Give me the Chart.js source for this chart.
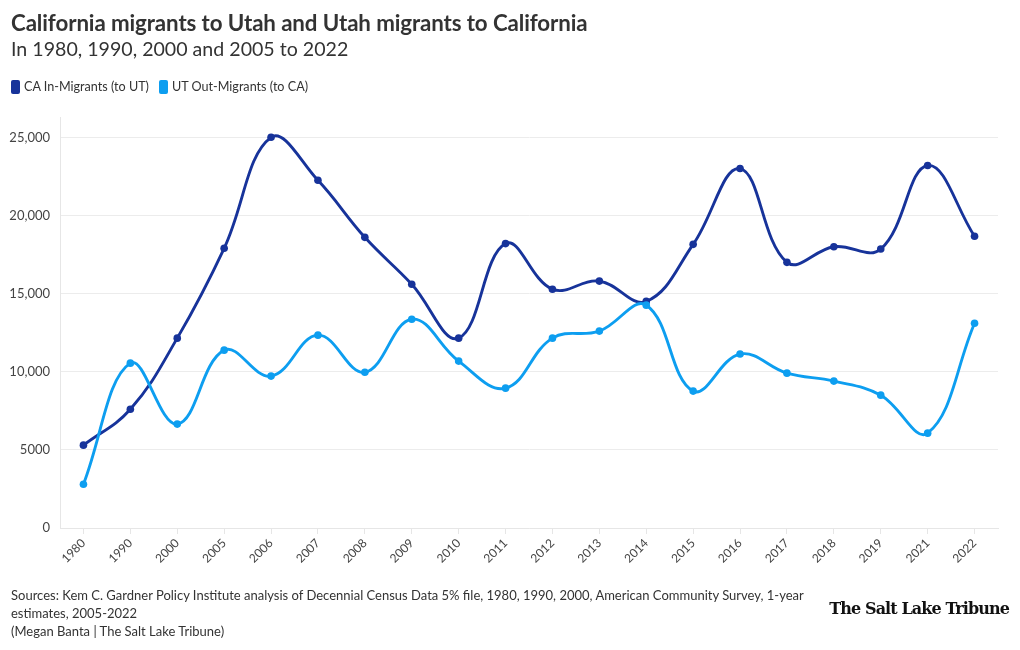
<!DOCTYPE html>
<html>
<head>
<meta charset="utf-8">
<script src="https://cdn.jsdelivr.net/npm/chart.js@4"></script>
<style>
  html, body { margin:0; padding:0; background:#fff; }
  body { width:1020px; height:650px; position:relative; overflow:hidden; font-family: Lato, "Noto Sans", sans-serif; color:#333; }
  #title { position:absolute; left:11px; top:9px; font-size:22.3px; font-weight:700; color:#333; white-space:nowrap; letter-spacing:-0.1px; }
  #subtitle { position:absolute; left:11px; top:37px; font-size:19.6px; font-weight:400; color:#333; white-space:nowrap; }
  #legend { position:absolute; left:11px; top:79px; font-size:12.6px; color:#333; white-space:nowrap; display:flex; align-items:center; }
  .sw { display:inline-block; width:9px; height:14px; border-radius:2px; margin-right:4px; }
  .item { display:flex; align-items:center; margin-right:10px; }
  #chartWrap { position:absolute; left:0; top:0; width:1020px; height:650px; }
  #footer { position:absolute; left:11px; top:586px; width:830px; font-size:13px; line-height:18px; color:#333; }
  #logo { position:absolute; right:11px; top:599px; font-family:"DejaVu Serif", serif; font-weight:700; font-size:16px; color:#111; letter-spacing:-0.9px; white-space:nowrap; }
</style>
</head>
<body>
<div id="chartWrap"><canvas id="c" width="1020" height="650"></canvas></div>
<div id="title">California migrants to Utah and Utah migrants to California</div>
<div id="subtitle">In 1980, 1990, 2000 and 2005 to 2022</div>
<div id="legend"></div>
<div id="footer">Sources: Kem C. Gardner Policy Institute analysis of Decennial Census Data 5% file, 1980, 1990, 2000, American Community Survey, 1-year<br>estimates, 2005-2022<br>(Megan Banta | The Salt Lake Tribune)</div>
<div id="logo">The Salt Lake Tribune</div>
<script>
const years = ["1980","1990","2000","2005","2006","2007","2008","2009","2010","2011","2012","2013","2014","2015","2016","2017","2018","2019","2021","2022"];
const caInMigrants = [5300,7600,12150,17900,25000,22250,18600,15600,12150,18200,15280,15800,14500,18150,23000,17000,18000,17850,23200,18670];
const utOutMigrants = [2800,10550,6650,11380,9720,12340,9970,13360,10680,8950,12150,12600,14260,8760,11130,9910,9400,8500,6070,13100];
const seriesNames = ["CA In-Migrants (to UT)","UT Out-Migrants (to CA)"];
const seriesColors = ["#17339a","#0d9ef0"];
const yTickValues = [0,5000,10000,15000,20000,25000];

// legend
const lg = document.getElementById('legend');
seriesNames.forEach((n,i)=>{
  const it = document.createElement('span'); it.className='item';
  it.innerHTML = '<span class="sw" style="background:'+seriesColors[i]+'"></span>'+n;
  lg.appendChild(it);
});

const fontFam = 'Lato, "Noto Sans", sans-serif';
new Chart(document.getElementById('c'), {
  type:'line',
  data:{
    labels: years,
    datasets:[
      { label:seriesNames[0], data:caInMigrants, borderColor:seriesColors[0], backgroundColor:seriesColors[0],
        borderWidth:2.9, pointRadius:3.8, pointHoverRadius:3.8, pointBorderWidth:0, tension:0.4, order:1 },
      { label:seriesNames[1], data:utOutMigrants, borderColor:seriesColors[1], backgroundColor:seriesColors[1],
        borderWidth:2.9, pointRadius:3.8, pointHoverRadius:3.8, pointBorderWidth:0, tension:0.4, order:0 }
    ]
  },
  options:{
    responsive:false, animation:false, devicePixelRatio:1,
    layout:{ padding:{ top:117, right:22, left:0, bottom:0 } },
    plugins:{ legend:{display:false}, title:{display:false}, tooltip:{enabled:false} },
    scales:{
      x:{
        offset:true,
        grid:{ display:true, drawOnChartArea:false, drawTicks:true, tickLength:6, color:'#e6e6e6' },
        border:{ display:true, color:'#e6e6e6' },
        ticks:{ minRotation:45, maxRotation:45, autoSkip:false, color:'#444', font:{ family:fontFam, size:12 }, padding:2 },
        afterFit(s){ s.height = 650-528; }
      },
      y:{
        min:0, max:26300,
        grid:{ color:'#ececec', drawTicks:false },
        border:{ display:true, color:'#e6e6e6' },
        afterBuildTicks(s){ s.ticks = yTickValues.map(v=>({value:v})); },
        ticks:{ color:'#444', font:{ family:fontFam, size:13 }, padding:10,
          callback:(v)=> v>=10000 ? v.toLocaleString('en-US') : String(v) },
        afterFit(s){ s.width = 60; }
      }
    }
  }
});
</script>
</body>
</html>
